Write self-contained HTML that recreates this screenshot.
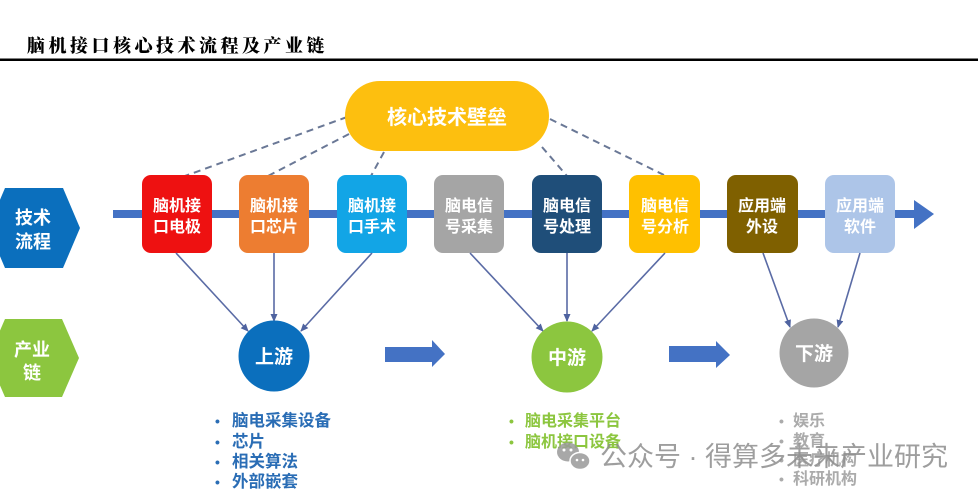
<!DOCTYPE html>
<html><head><meta charset="utf-8"><style>
html,body{margin:0;padding:0;background:#fff;}
svg{display:block;}
text{font-family:"Liberation Sans","Noto Sans CJK SC",sans-serif;}
</style></head><body>
<svg width="978" height="495" viewBox="0 0 978 495" xmlns="http://www.w3.org/2000/svg">
<defs>
<marker id="ah" markerWidth="8" markerHeight="8" refX="7" refY="4" orient="auto" markerUnits="userSpaceOnUse">
<path d="M0,0.5 L8,4 L0,7.5 Z" fill="#4f63a0"/>
</marker>
</defs>
<rect width="978" height="495" fill="#fff"/>
<text x="27" y="52" style="font-family:'Noto Serif CJK SC',serif" font-size="18" font-weight="900" letter-spacing="3.5" fill="#000">脑机接口核心技术流程及产业链</text>
<rect x="0" y="58.5" width="978" height="2.5" fill="#000"/>

<!-- dashed lines -->
<g stroke="#6a7896" stroke-width="2" stroke-dasharray="7 5" fill="none">
<line x1="347" y1="117" x2="185" y2="176"/>
<line x1="349" y1="134" x2="268" y2="176"/>
<line x1="384" y1="152" x2="371" y2="176"/>
<line x1="542" y1="147" x2="567" y2="176"/>
<line x1="550" y1="119" x2="666" y2="176"/>
</g>

<!-- core pill -->
<rect x="345" y="81" width="204" height="70" rx="35" fill="#fdbf0f"/>
<text x="447" y="124" text-anchor="middle" font-size="20" font-weight="700" fill="#fff">核心技术壁垒</text>

<!-- flow bar -->
<rect x="113" y="210" width="804" height="8" fill="#4472c4"/>
<polygon points="914,200 934,214 914,229" fill="#4472c4"/>

<!-- left hexes -->
<polygon points="5,188 63,188 80,228 63,268 5,268 -12,228" fill="#0b6fbd"/>
<text x="33" y="224" text-anchor="middle" font-size="18" font-weight="700" fill="#fff">技术</text>
<text x="33" y="248" text-anchor="middle" font-size="18" font-weight="700" fill="#fff">流程</text>
<polygon points="5,319 62,319 79,358 62,397 5,397 -12,358" fill="#8cc63f"/>
<text x="32" y="356" text-anchor="middle" font-size="18" font-weight="700" fill="#fff">产业</text>
<text x="32" y="379" text-anchor="middle" font-size="18" font-weight="700" fill="#fff">链</text>

<!-- boxes -->
<g font-size="16" font-weight="700" text-anchor="middle">
<rect x="142" y="175" width="70" height="78" rx="9" fill="#ee1111"/>
<text x="177" y="211" fill="#fff">脑机接</text><text x="177" y="232" fill="#fff">口电极</text>
<rect x="239" y="175" width="70" height="78" rx="9" fill="#ed7d31"/>
<text x="274" y="211" fill="#fff">脑机接</text><text x="274" y="232" fill="#fff">口芯片</text>
<rect x="337" y="175" width="70" height="78" rx="9" fill="#12a5e6"/>
<text x="372" y="211" fill="#fff">脑机接</text><text x="372" y="232" fill="#fff">口手术</text>
<rect x="434" y="175" width="70" height="78" rx="9" fill="#a5a5a5"/>
<text x="469" y="211" fill="#fff">脑电信</text><text x="469" y="232" fill="#fff">号采集</text>
<rect x="532" y="175" width="70" height="78" rx="9" fill="#1f4e79"/>
<text x="567" y="211" fill="#fff">脑电信</text><text x="567" y="232" fill="#fff">号处理</text>
<rect x="629" y="175" width="71" height="78" rx="9" fill="#ffc000"/>
<text x="665" y="211" fill="#fff">脑电信</text><text x="665" y="232" fill="#fff">号分析</text>
<rect x="727" y="175" width="71" height="78" rx="9" fill="#7f6000"/>
<text x="762" y="211" fill="#fff">应用端</text><text x="762" y="232" fill="#fff">外设</text>
<rect x="825" y="175" width="70" height="78" rx="9" fill="#adc5e8"/>
<text x="860" y="211" fill="#fff">应用端</text><text x="860" y="232" fill="#fff">软件</text>
</g>

<!-- solid connectors -->
<g stroke="#5a6ba5" stroke-width="1.6" fill="none" marker-end="url(#ah)">
<line x1="176" y1="253" x2="248" y2="331"/>
<line x1="274" y1="253" x2="274" y2="321"/>
<line x1="372" y1="253" x2="301" y2="331"/>
<line x1="470" y1="253" x2="543" y2="331"/>
<line x1="567" y1="253" x2="567" y2="321"/>
<line x1="665" y1="253" x2="592" y2="331"/>
<line x1="763" y1="253" x2="790" y2="327"/>
<line x1="860" y1="253" x2="838" y2="327"/>
</g>

<!-- circles -->
<circle cx="274" cy="356" r="35.5" fill="#0b6fbd"/>
<text x="274" y="363" text-anchor="middle" font-size="19" font-weight="700" fill="#fff">上游</text>
<circle cx="567" cy="357" r="35.5" fill="#8cc63f"/>
<text x="567" y="364" text-anchor="middle" font-size="19" font-weight="700" fill="#fff">中游</text>
<circle cx="814" cy="353" r="34.5" fill="#a5a5a5"/>
<text x="814" y="360" text-anchor="middle" font-size="19" font-weight="700" fill="#fff">下游</text>

<!-- big arrows -->
<polygon points="385,347 432,347 432,340 445,354 432,367 432,362 385,362" fill="#4472c4"/>
<polygon points="669,346 716,346 716,341 730,355 716,368 716,362 669,362" fill="#4472c4"/>

<!-- lists -->
<g font-size="16.5" font-weight="700" fill="#2a6db5">
<text x="215" y="426" font-size="14">•</text><text x="232" y="426">脑电采集设备</text>
<text x="215" y="447" font-size="14">•</text><text x="232" y="447">芯片</text>
<text x="215" y="467" font-size="14">•</text><text x="232" y="467">相关算法</text>
<text x="215" y="487" font-size="14">•</text><text x="232" y="487">外部嵌套</text>
</g>
<g font-size="16" font-weight="700" fill="#8cc63f">
<text x="509" y="426" font-size="14">•</text><text x="525" y="426">脑电采集平台</text>
<text x="509" y="447" font-size="14">•</text><text x="525" y="447">脑机接口设备</text>
</g>
<g font-size="16" font-weight="700" fill="#ababab">
<text x="779" y="426" font-size="14">•</text><text x="793" y="426">娱乐</text>
<text x="779" y="446" font-size="14">•</text><text x="793" y="446">教育</text>
<text x="779" y="465" font-size="14">•</text><text x="793" y="465">医疗机构</text>
<text x="779" y="484" font-size="14">•</text><text x="793" y="484">科研机构</text>
</g>

<!-- watermark -->
<g opacity="0.85">
<ellipse cx="568" cy="452" rx="11" ry="9.5" fill="#9a9a9a"/>
<ellipse cx="580" cy="461" rx="10" ry="8.5" fill="#9a9a9a" stroke="#fff" stroke-width="1.5"/>
<circle cx="564" cy="450" r="1.5" fill="#fff"/><circle cx="571" cy="450" r="1.5" fill="#fff"/>
<circle cx="577" cy="460" r="1.3" fill="#fff"/><circle cx="583" cy="460" r="1.3" fill="#fff"/>
<text x="600" y="466" font-size="27" fill="#8e8e8e">公众号 · 得算多未来产业研究</text>
</g>
</svg>
</body></html>
